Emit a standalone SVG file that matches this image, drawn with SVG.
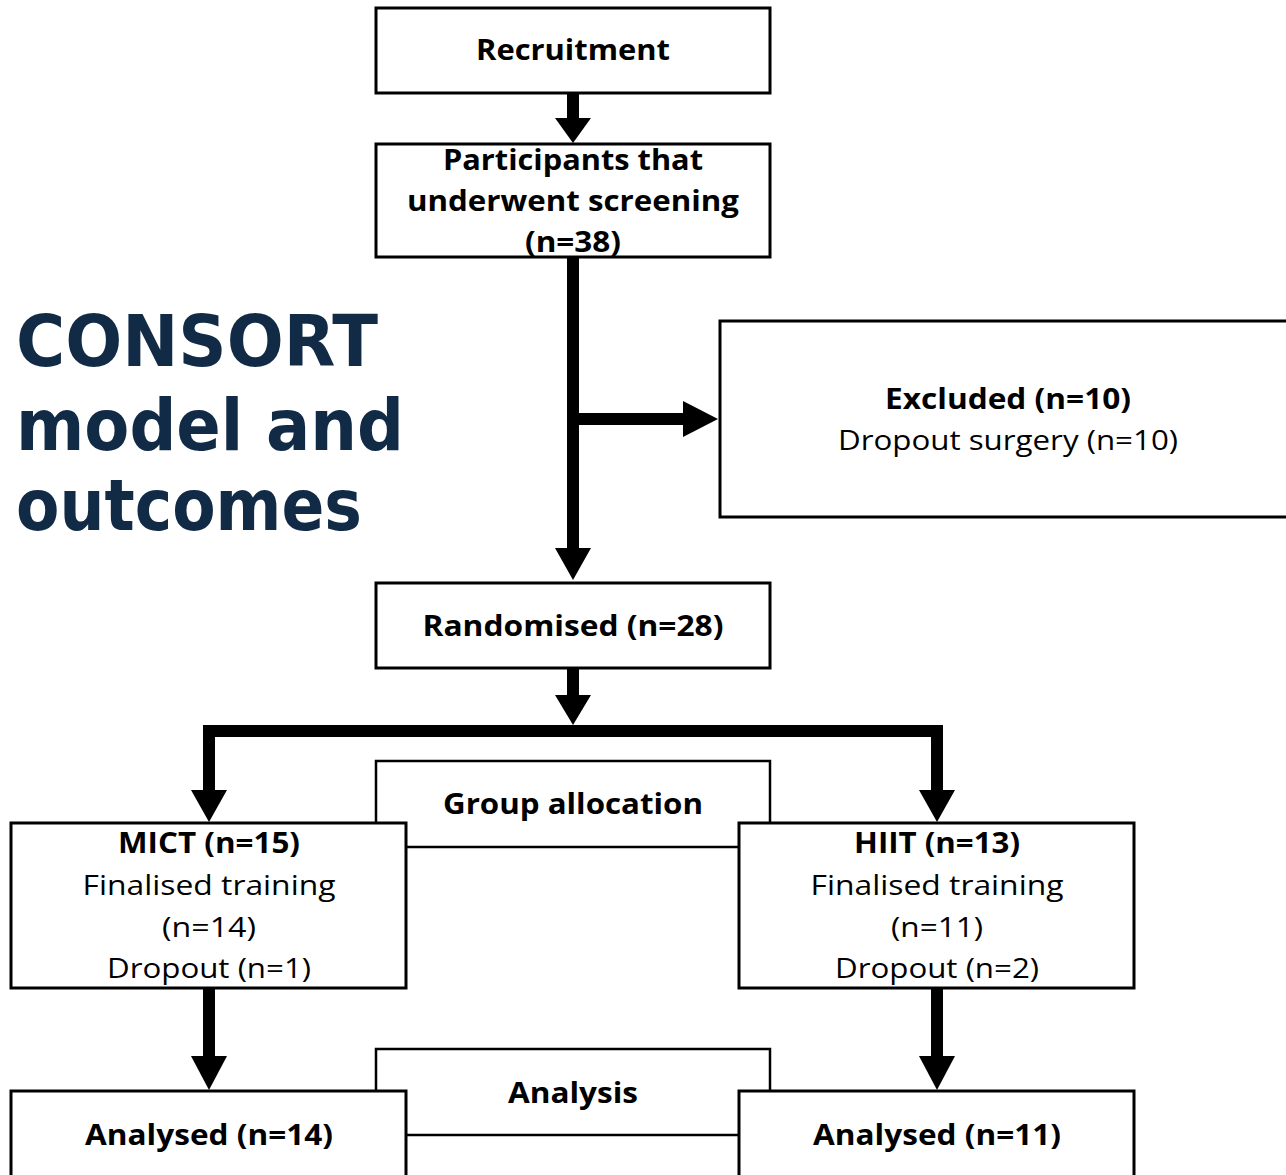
<svg xmlns="http://www.w3.org/2000/svg" width="1286" height="1175" viewBox="0 0 1286 1175">
<style>
.box{fill:#fff;stroke:#000;stroke-width:3}
.thin{fill:#fff;stroke:#000;stroke-width:2.5}
.b{font-family:"Open Sans","Liberation Sans",Arial,sans-serif;font-weight:bold;font-size:28px;text-anchor:middle;fill:#000}
.r{font-family:"Open Sans","Liberation Sans",Arial,sans-serif;font-size:28px;text-anchor:middle;fill:#000}
.title{font-family:"DejaVu Sans",sans-serif;font-weight:bold;font-size:72px;fill:#112a45}
.line{stroke:#000;stroke-width:12;fill:none}
.head{fill:#000}
</style>
<rect width="1286" height="1175" fill="#fff"/>
<g id="title">
<text class="title" x="16" y="366" textLength="362" lengthAdjust="spacingAndGlyphs">CONSORT</text>
<text class="title" x="16" y="450" textLength="388" lengthAdjust="spacingAndGlyphs">model and</text>
<text class="title" x="16" y="530" textLength="346" lengthAdjust="spacingAndGlyphs">outcomes</text>
</g>
<g id="group-allocation"><rect class="thin" x="376" y="761" width="394" height="86"/><text class="b" x="573" y="814" textLength="260" lengthAdjust="spacingAndGlyphs">Group allocation</text></g>
<g id="analysis"><rect class="thin" x="376" y="1049" width="394" height="86"/><text class="b" x="573" y="1103" textLength="130" lengthAdjust="spacingAndGlyphs">Analysis</text></g>
<g id="connectors">
<path class="line" d="M573,93 V120"/>
<path class="head" d="M555,118 L591,118 L573,143 Z"/>
<path class="line" d="M573,257 V550"/>
<path class="line" d="M573,419 H686"/>
<path class="head" d="M683,401 L718,419 L683,437 Z"/>
<path class="head" d="M555,548 L591,548 L573,580 Z"/>
<path class="line" d="M573,668 V697"/>
<path class="head" d="M555,695 L591,695 L573,725 Z"/>
<path class="line" d="M209,792 V731 H937 V792"/>
<path class="head" d="M191,790 L227,790 L209,822 Z"/>
<path class="head" d="M919,790 L955,790 L937,822 Z"/>
<path class="line" d="M209,988 V1058"/>
<path class="head" d="M191,1056 L227,1056 L209,1090 Z"/>
<path class="line" d="M937,988 V1058"/>
<path class="head" d="M919,1056 L955,1056 L937,1090 Z"/>
</g>
<g id="recruitment"><rect class="box" x="376" y="8" width="394" height="85"/><text class="b" x="573" y="60" textLength="194" lengthAdjust="spacingAndGlyphs">Recruitment</text></g>
<g id="screening"><rect class="box" x="376" y="144" width="394" height="113"/>
<text class="b" x="573" y="170" textLength="260" lengthAdjust="spacingAndGlyphs">Participants that</text>
<text class="b" x="573" y="211" textLength="332" lengthAdjust="spacingAndGlyphs">underwent screening</text>
<text class="b" x="573" y="252" textLength="96" lengthAdjust="spacingAndGlyphs">(n=38)</text></g>
<g id="excluded"><rect class="box" x="720" y="321" width="580" height="196"/>
<text class="b" x="1008" y="409" textLength="246" lengthAdjust="spacingAndGlyphs">Excluded (n=10)</text>
<text class="r" x="1008" y="450" textLength="340" lengthAdjust="spacingAndGlyphs">Dropout surgery (n=10)</text></g>
<g id="randomised"><rect class="box" x="376" y="583" width="394" height="85"/><text class="b" x="573" y="636" textLength="301" lengthAdjust="spacingAndGlyphs">Randomised (n=28)</text></g>
<g id="mict"><rect class="box" x="11" y="823" width="395" height="165"/>
<text class="b" x="209" y="853" textLength="182" lengthAdjust="spacingAndGlyphs">MICT (n=15)</text>
<text class="r" x="209" y="895" textLength="253" lengthAdjust="spacingAndGlyphs">Finalised training</text>
<text class="r" x="209" y="937" textLength="94" lengthAdjust="spacingAndGlyphs">(n=14)</text>
<text class="r" x="209" y="978" textLength="204" lengthAdjust="spacingAndGlyphs">Dropout (n=1)</text></g>
<g id="hiit"><rect class="box" x="739" y="823" width="395" height="165"/>
<text class="b" x="937" y="853" textLength="166" lengthAdjust="spacingAndGlyphs">HIIT (n=13)</text>
<text class="r" x="937" y="895" textLength="253" lengthAdjust="spacingAndGlyphs">Finalised training</text>
<text class="r" x="937" y="937" textLength="92" lengthAdjust="spacingAndGlyphs">(n=11)</text>
<text class="r" x="937" y="978" textLength="204" lengthAdjust="spacingAndGlyphs">Dropout (n=2)</text></g>
<g id="analysed-mict"><rect class="box" x="11" y="1091" width="395" height="100"/><text class="b" x="209" y="1145" textLength="248" lengthAdjust="spacingAndGlyphs">Analysed (n=14)</text></g>
<g id="analysed-hiit"><rect class="box" x="739" y="1091" width="395" height="100"/><text class="b" x="937" y="1145" textLength="248" lengthAdjust="spacingAndGlyphs">Analysed (n=11)</text></g>
</svg>
